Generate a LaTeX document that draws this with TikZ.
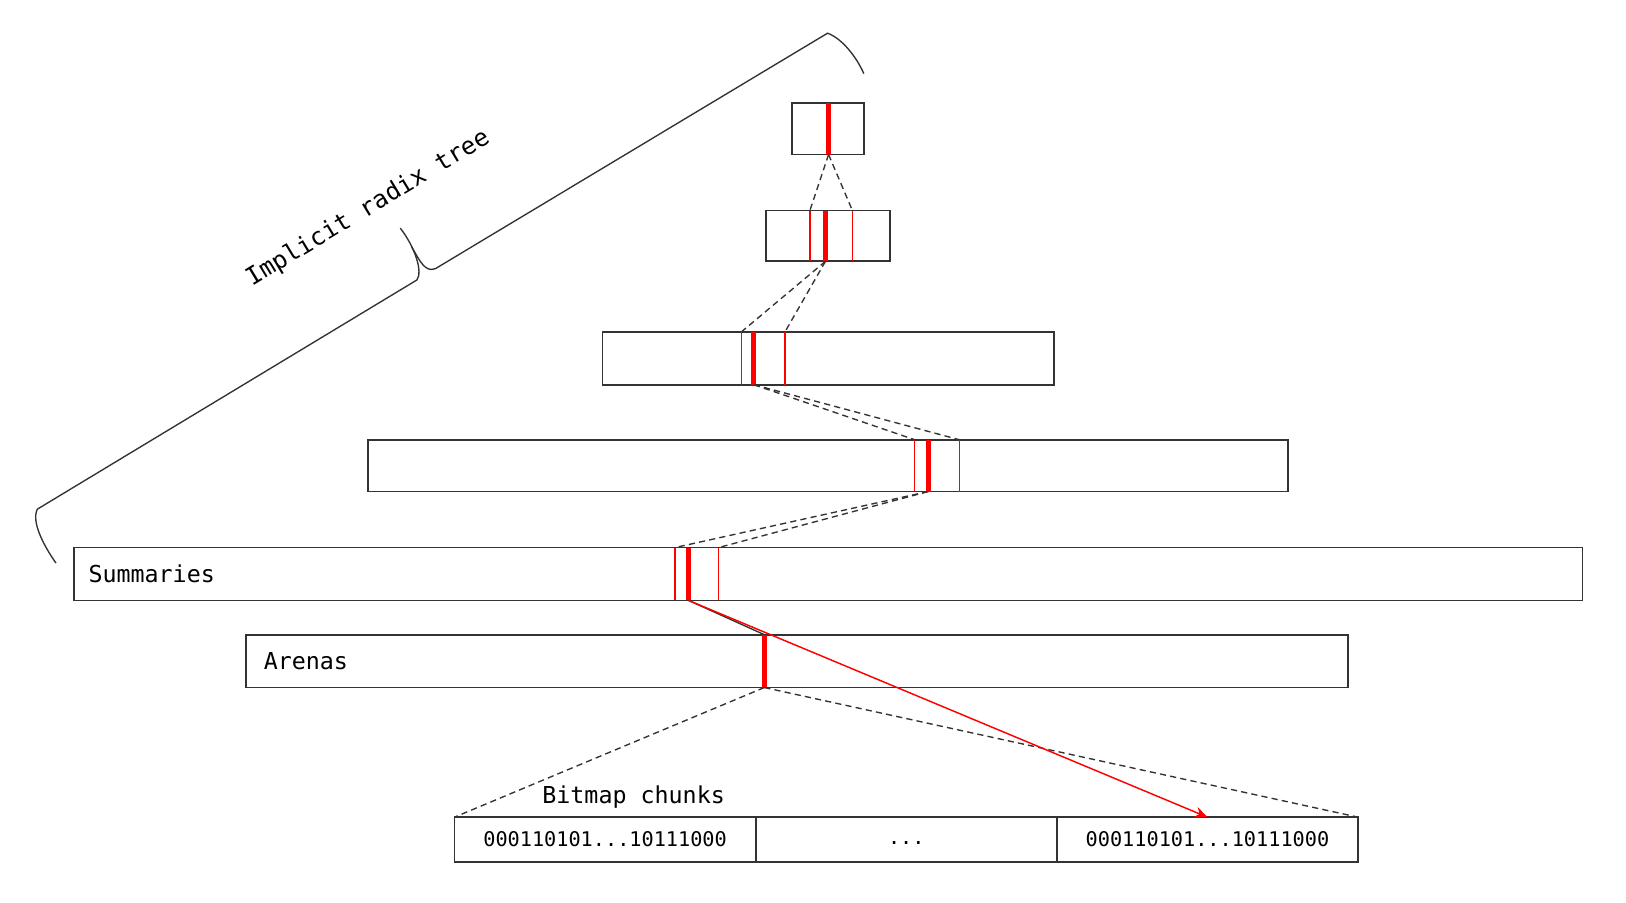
\documentclass[tikz,border=0pt]{standalone}
\usepackage{fontspec}
\setmainfont{DejaVu Sans Mono}
\usetikzlibrary{positioning}
\usetikzlibrary{arrows.meta}
\definecolor{ink}{HTML}{333333}
\tikzset{
  tier/.style 2 args={draw=ink, line width=1pt, minimum width=#1*0.02cm, minimum height=#2*0.02cm, inner sep=0pt, outer sep=0pt},
  cur/.style={fill=red, minimum width=0.1cm, minimum height=#1*0.02cm, inner sep=0pt, outer sep=0pt},
  bound/.style={fill=red, minimum width=0.7pt, minimum height=#1*0.02cm, inner sep=0pt, outer sep=0pt},
  chunk/.style={draw=ink, line width=1pt, minimum width=5.81cm, minimum height=0.86cm, inner sep=0pt, outer sep=0pt, font=\fontsize{11.1}{13}\selectfont},
  link/.style={draw=ink, dash pattern=on 3.4pt off 2.3pt, line width=0.75pt},
  txt/.style={font=\fontsize{12.8}{15}\selectfont, inner sep=0pt},
}
\begin{document}
\begin{tikzpicture}[x=0.02cm, y=-0.02cm, node distance=0pt]
\useasboundingbox (0,0) rectangle (1568,870);
% tree levels, top to bottom, with the selected slot
\foreach \n/\w/\y/\h/\x in {0/69/124/50/799, 1/119/227.5/49/796, 2/435/345.5/51/727, 3/887/449/50/895, 4/1455/553.5/51/664} {
\node[tier={\w}{\h}] (tier\n) at (798.5,\y) {};
\node[cur=\h] (cur\n) at (\x,\y) {};
}
% range covered by the parent slot
\foreach \n/\y/\h/\l/\r in {1/227.5/49/781/822, 2/345.5/51/715/757, 3/449/50/882/925, 4/553.5/51/651/693} {
\node[bound=\h] (lft\n) at (\l,\y) {};
\node[bound=\h] (rgt\n) at (\r,\y) {};
}
\foreach \a/\b in {0/1,1/2,2/3,3/4} {
\draw[link] (cur\a.south) -- (lft\b.north);
\draw[link] (cur\a.south) -- (rgt\b.north);
}
\node[txt, anchor=west] at ([xshift=0.28cm]tier4.west) {Summaries};

% arenas
\node[tier={1063}{51}] (arenas) at (768.5,637.5) {};
\node[cur=51] (cur5) at (737,637.5) {};
\node[txt, anchor=west] at ([xshift=0.34cm]arenas.west) {Arenas};
\draw[ink, line width=0.75pt] (cur4.south) -- (cur5.north);

% bitmap chunks
\node[chunk] (chunk1) at (583.5,809.5) {000110101...10111000};
\node[chunk, right=of chunk1] (chunk2) {\smash{\raisebox{-3pt}{...}}};
\node[chunk, right=of chunk2] (chunk3) {000110101...10111000};
\node[txt] (bits) at (611,769) {Bitmap chunks};
\draw[link] (cur5.south) -- (chunk1.north west);
\draw[link] (cur5.south) -- (chunk3.north east);
\draw[red, line width=0.8pt, -{Stealth[length=7pt, width=6pt]}] (cur4.south) -- (chunk3.north);

% brace
\draw[ink, line width=0.75pt] (54,543) .. controls (42,526) and (30,503) .. (36,491)
  -- (402,270) .. controls (408,262) and (400,238) .. (386,220);
\draw[ink, line width=0.75pt] (397,238) .. controls (405,252) and (410,263) .. (420,259)
  -- (798,32) .. controls (812,37) and (826,55) .. (833,71);
\node[txt, font=\fontsize{13.4}{15}\selectfont, rotate=31.2] (brlabel) at (355,201) {Implicit radix tree};
\end{tikzpicture}
\end{document}
